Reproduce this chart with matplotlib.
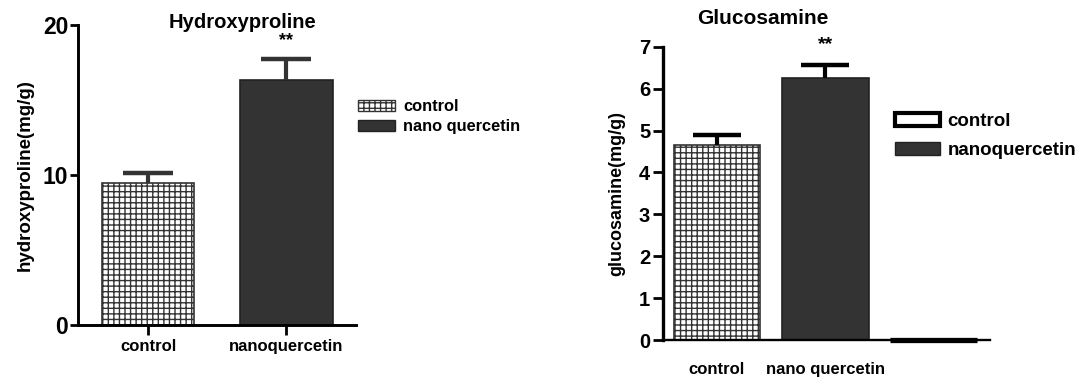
import matplotlib
matplotlib.use("Agg")
import matplotlib.pyplot as plt
from matplotlib.patches import Patch

plt.rcParams['font.family'] = ['Liberation Sans', 'DejaVu Sans']
plt.rcParams['font.weight'] = 'bold'
plt.rcParams['hatch.linewidth'] = 1.0

# hydroxyproline panel
hyp_groups = ["control", "nanoquercetin"]
hyp_means = [9.45, 16.33]
hyp_sem = [0.70, 1.40]
hyp_legend = ["control", "nano quercetin"]

# glucosamine panel (third group is an empty control column)
glc_groups = ["control", "nano quercetin", ""]
glc_means = [4.65, 6.25, 0.0]
glc_sem = [0.24, 0.31, 0.0]
glc_legend = ["control", "nanoquercetin"]

DARK = "#333333"
W, H = 1081, 377


def fx(px):
    return px / W


def fy(py):
    return 1 - py / H


def upper_err(ax, x, y, err, color, capsize):
    # one-sided (upper) SEM bar
    eb = ax.errorbar(x, y, yerr=[[0] * len(err), err], fmt="none", ecolor=color,
                     elinewidth=3, capsize=capsize, capthick=3.2)
    eb[1][0].set_visible(False)
    return eb


fig = plt.figure(figsize=(10.81, 3.77), dpi=100)

# ---------------- left: hydroxyproline ----------------
ax1 = fig.add_axes([fx(78), fy(325), fx(356) - fx(78), fy(25) - fy(325)])
x1 = list(range(len(hyp_groups)))
ax1.bar(x1[0], hyp_means[0], width=0.67, color="white", edgecolor=DARK,
        hatch="+++", linewidth=1.2)
ax1.bar(x1[1], hyp_means[1], width=0.67, color=DARK, edgecolor="#222222",
        linewidth=1.2)
upper_err(ax1, x1, hyp_means, hyp_sem, DARK, 18)
ax1.text(1, hyp_means[1] + hyp_sem[1] + 1.25, "**", ha="center", va="center",
         fontsize=13, clip_on=False)
ax1.set_xlim(-0.507, 1.505)
ax1.set_ylim(0, 20)
ax1.set_yticks([0, 10, 20])
ax1.set_xticks(x1)
ax1.set_xticklabels(hyp_groups, fontsize=12)
ax1.tick_params(axis="y", labelsize=16.5, length=6, width=2, pad=1)
ax1.tick_params(axis="x", length=7, width=2, pad=3)
for s in ["top", "right"]:
    ax1.spines[s].set_visible(False)
for s in ["left", "bottom"]:
    ax1.spines[s].set_linewidth(2.1)
fig.text(fx(242), fy(22), "Hydroxyproline", ha="center", va="center", fontsize=14.5)
fig.text(fx(25), fy(175), "hydroxyproline(mg/g)", ha="center", va="center",
         rotation=90, fontsize=13.5)
ax1.legend([Patch(facecolor="white", edgecolor=DARK, hatch="+++", linewidth=1),
            Patch(facecolor=DARK, edgecolor="#222222")],
           hyp_legend, loc="upper left", bbox_to_anchor=(fx(358), fy(99)),
           bbox_transform=fig.transFigure, frameon=False, borderpad=0,
           borderaxespad=0, fontsize=11.8, handlelength=2.25, handleheight=0.7,
           handletextpad=0.5, labelspacing=0.32)

# ---------------- right: glucosamine ----------------
ax2 = fig.add_axes([fx(662.7), fy(340), fx(990) - fx(662.7), fy(46.7) - fy(340)])
x2 = list(range(len(glc_groups)))
ax2.bar(x2[0], glc_means[0], width=0.8, color="white", edgecolor=DARK,
        hatch="+++", linewidth=1.2)
ax2.bar(x2[1], glc_means[1], width=0.8, color=DARK, edgecolor="#222222",
        linewidth=1.2)
ax2.bar(x2[2], glc_means[2], width=0.8, color="white", edgecolor="black",
        linewidth=3.8, clip_on=False, zorder=3)
upper_err(ax2, x2[:2], glc_means[:2], glc_sem[:2], "black", 17)
ax2.text(1, glc_means[1] + glc_sem[1] + 0.48, "**", ha="center", va="center",
         fontsize=14, clip_on=False)
ax2.set_xlim(-0.5, 2.52)
ax2.set_ylim(0, 7)
ax2.set_yticks(range(0, 8))
ax2.set_xticks(x2)
ax2.set_xticklabels(glc_groups, fontsize=12)
ax2.tick_params(axis="y", labelsize=14.5, length=7, width=2, pad=2)
ax2.tick_params(axis="x", length=0, pad=16)
for s in ["top", "right"]:
    ax2.spines[s].set_visible(False)
ax2.spines["left"].set_linewidth(2.4)
ax2.spines["bottom"].set_linewidth(1.7)
fig.text(fx(763), fy(18), "Glucosamine", ha="center", va="center", fontsize=15)
fig.text(fx(617), fy(193), "glucosamine(mg/g)", ha="center", va="center",
         rotation=90, fontsize=13)
ax2.legend([Patch(facecolor="white", edgecolor="black", linewidth=3),
            Patch(facecolor=DARK, edgecolor="#222222")],
           glc_legend, loc="upper left", bbox_to_anchor=(fx(895), fy(113)),
           bbox_transform=fig.transFigure, frameon=False, borderpad=0,
           borderaxespad=0, fontsize=13.5, handlelength=2.4, handleheight=0.7,
           handletextpad=0.4, labelspacing=0.62)

fig.savefig("out.png", dpi=100)
